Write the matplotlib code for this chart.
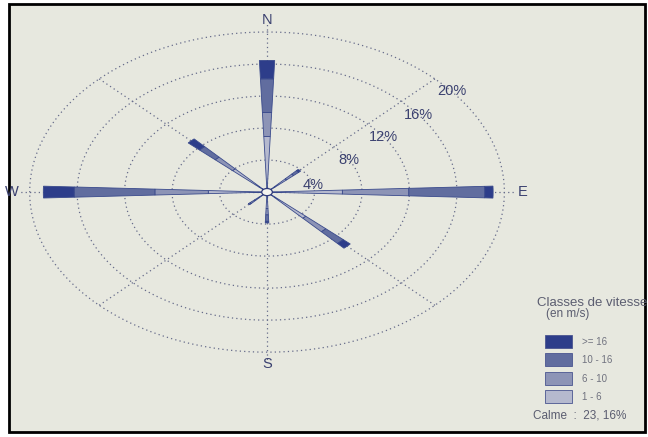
import numpy as np
import matplotlib
matplotlib.use('Agg')
import matplotlib.pyplot as plt
from matplotlib.patches import Wedge, Circle, Rectangle

plt.rcParams['font.family'] = ['Liberation Sans', 'DejaVu Sans']

# wind rose data (% of time), stacked from the centre outwards
directions = ['N', 'NE', 'E', 'SE', 'S', 'SW', 'W', 'NW']
dir_angles = [0, 45, 90, 135, 180, 225, 270, 315]
class_labels = ['>= 16', '10 - 16', '6 - 10', '1 - 6']
freq_1_6 = [6.5, 1.8, 5.9, 4.0, 1.6, 1.0, 4.5, 3.5]
freq_6_10 = [3.0, 0.8, 5.6, 2.3, 0.8, 0.5, 4.5, 2.0]
freq_10_16 = [4.2, 0.6, 6.4, 2.0, 0.8, 0.2, 6.8, 1.8]
freq_16 = [2.3, 0.2, 0.7, 0.8, 0.2, 0.0, 2.6, 1.3]
ring_values = [4, 8, 12, 16, 20]
ring_label_angles = [77, 60, 55, 53, 51]
calm_text = 'Calme  :  23, 16%'

# colours for 1-6, 6-10, 10-16, >=16
class_colors = ['#b5b9ce', '#8d94b6', '#616d9f', '#2d3d8a']
grid_color = '#666b8a'
text_color = '#3b4170'
bg_color = '#e7e8df'

calm_r = 0.45
bar_width = 4.5  # degrees

fig = plt.figure(figsize=(6.48, 4.37), dpi=100)
fig.patch.set_facecolor('white')
fig.patches.append(Rectangle((9 / 648, 1 - 432 / 437), 636 / 648, 428 / 437,
                             transform=fig.transFigure, facecolor=bg_color,
                             edgecolor='black', linewidth=2, zorder=-5))

ax = fig.add_axes([0, 0, 1, 1])
ax.set_zorder(1)
ax.patch.set_alpha(0)
ax.set_xlim(-22.5, 32.1)
ax.set_ylim(-30.6, 24.0)
ax.axis('off')

# dotted grid: rings and spokes
t = np.linspace(0, 2 * np.pi, 400)
dots = (0, (1, 2.5))
for rv in ring_values:
    ax.plot(rv * np.sin(t), rv * np.cos(t), color=grid_color, lw=0.9,
            linestyle=dots, zorder=1)
for a in dir_angles:
    rr = 21.0 if a % 90 == 0 else 20.3
    ax.plot([0, rr * np.sin(np.radians(a))], [0, rr * np.cos(np.radians(a))],
            color=grid_color, lw=0.9, linestyle=dots, zorder=1)

# stacked wedges
stack = np.array([freq_1_6, freq_6_10, freq_10_16, freq_16])
for j, a in enumerate(dir_angles):
    theta = 90 - a
    r0 = calm_r
    for k in range(4):
        v = stack[k, j]
        if v <= 0:
            continue
        w = Wedge((0, 0), r0 + v, theta - bar_width / 2, theta + bar_width / 2,
                  width=v, facecolor=class_colors[k], edgecolor='#3a4a8c',
                  linewidth=0.6, zorder=3)
        ax.add_patch(w)
        r0 += v

ax.add_patch(Circle((0, 0), calm_r, facecolor='#f4f4ef', edgecolor='#2f3a7a',
                    linewidth=0.9, zorder=4))

# compass letters
for name, a in zip(['N', 'E', 'S', 'W'], [0, 90, 180, 270]):
    ax.text(21.5 * np.sin(np.radians(a)), 21.5 * np.cos(np.radians(a)), name,
            ha='center', va='center', fontsize=10.5, color=text_color, zorder=5)

# ring labels
for rv, a in zip(ring_values, ring_label_angles):
    ax.text(rv * np.sin(np.radians(a)), rv * np.cos(np.radians(a)), f'{rv}%',
            ha='center', va='center', fontsize=10.5, color=text_color, zorder=5)

# legend
leg_color = '#5b5d70'
fig.text(592 / 648, 1 - 303 / 437, 'Classes de vitesse', ha='center', va='center',
         fontsize=9.5, color=leg_color, zorder=6)
fig.text(568 / 648, 1 - 314 / 437, '(en m/s)', ha='center', va='center',
         fontsize=8.5, color=leg_color, zorder=6)
box_tops = [335, 353, 372, 390]
for k, (lab, top) in enumerate(zip(class_labels, box_tops)):
    col = class_colors[3 - k]
    fig.patches.append(Rectangle((545 / 648, 1 - (top + 13) / 437), 27 / 648, 13 / 437,
                                 transform=fig.transFigure, facecolor=col,
                                 edgecolor='#4a5590', linewidth=0.6, zorder=3))
    fig.text(582 / 648, 1 - (top + 7) / 437, lab, ha='left', va='center',
             fontsize=7, color='#70727f', zorder=6)
fig.text(533 / 648, 1 - 416 / 437, calm_text, ha='left', va='center',
         fontsize=8.5, color=leg_color, zorder=6)

fig.savefig('out.png', dpi=100)
